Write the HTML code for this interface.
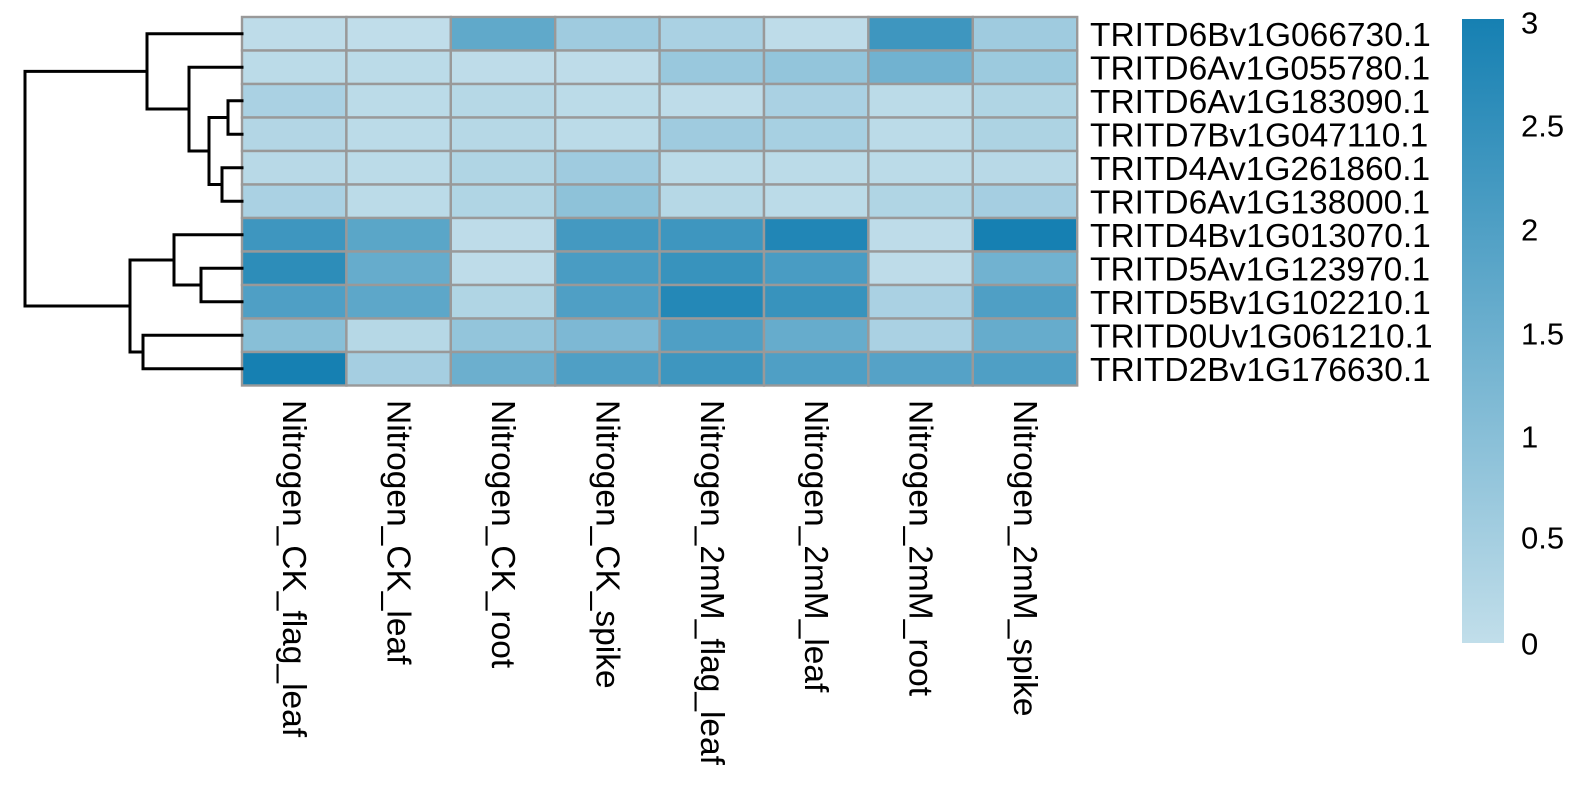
<!DOCTYPE html>
<html><head><meta charset="utf-8"><style>
html,body{margin:0;padding:0;background:#fff;}
svg{display:block;font-family:"Liberation Sans",Arial,sans-serif;}
</style></head><body>
<svg id="s" width="1588" height="792" viewBox="0 0 1588 792" xmlns="http://www.w3.org/2000/svg">
<defs><linearGradient id="g" x1="0" y1="1" x2="0" y2="0">
<stop offset="0" stop-color="#c1deea"/><stop offset="1" stop-color="#1680b2"/></linearGradient></defs>
<g id="cells"></g>
<g stroke="#000" stroke-width="3" fill="none" stroke-linecap="square">
<path d="M242,100.75 H228 V134.25 H242"/>
<path d="M242,167.75 H222 V201.25 H242"/>
<path d="M228,117.5 H209 V184.5 H222"/>
<path d="M242,67.25 H189 V151 H209"/>
<path d="M242,33.75 H147 V109 H189"/>
<path d="M242,268.25 H201 V301.75 H242"/>
<path d="M242,234.75 H174 V285 H201"/>
<path d="M242,335.25 H143 V368.75 H242"/>
<path d="M174,260 H130 V352 H143"/>
<path d="M147,71.4 H25 V306 H130"/>
</g>
<g id="rl" font-size="33.5" fill="#000"></g>
<g id="cl" font-size="33.5" fill="#000"></g>
<rect x="1462" y="19" width="42" height="624" fill="url(#g)"/>
<g font-size="31" fill="#000">
<text x="1521" y="33.5">3</text>
<text x="1521" y="136.5">2.5</text>
<text x="1521" y="240.5">2</text>
<text x="1521" y="344.5">1.5</text>
<text x="1521" y="447.5">1</text>
<text x="1521" y="548.5">0.5</text>
<text x="1521" y="654.5">0</text>
</g>
</svg>
<script>
var V=[
[0.05,0.02,1.7,0.6,0.4,0.05,2.3,0.6],
[0.1,0.1,0.05,0.05,0.7,0.8,1.4,0.65],
[0.4,0.1,0.2,0.1,0.05,0.4,0.1,0.3],
[0.25,0.1,0.2,0.1,0.6,0.45,0.1,0.35],
[0.15,0.1,0.3,0.6,0.1,0.1,0.1,0.15],
[0.4,0.1,0.3,0.9,0.2,0.1,0.3,0.5],
[2.3,1.8,0.05,2.2,2.3,2.8,0.05,3.0],
[2.6,1.6,0.05,2.1,2.4,2.1,0.05,1.4],
[2.0,1.75,0.3,2.0,2.75,2.4,0.4,2.0],
[1.0,0.2,0.8,1.2,2.0,1.6,0.4,1.6],
[3.0,0.5,1.5,2.0,2.3,2.0,1.9,2.0]];
var R=["TRITD6Bv1G066730.1","TRITD6Av1G055780.1","TRITD6Av1G183090.1","TRITD7Bv1G047110.1","TRITD4Av1G261860.1","TRITD6Av1G138000.1","TRITD4Bv1G013070.1","TRITD5Av1G123970.1","TRITD5Bv1G102210.1","TRITD0Uv1G061210.1","TRITD2Bv1G176630.1"];
var C=["Nitrogen_CK_flag_leaf","Nitrogen_CK_leaf","Nitrogen_CK_root","Nitrogen_CK_spike","Nitrogen_2mM_flag_leaf","Nitrogen_2mM_leaf","Nitrogen_2mM_root","Nitrogen_2mM_spike"];
var a=[193,222,234],b=[22,128,178];
function col(v){var t=v/3;return "rgb("+a.map(function(x,i){return Math.round(x+(b[i]-x)*t)}).join(",")+")";}
var x0=242,y0=17,cw=104.4,rh=33.5,h="";
for(var i=0;i<11;i++)for(var j=0;j<8;j++){
h+='<rect x="'+(x0+j*cw)+'" y="'+(y0+i*rh)+'" width="'+cw+'" height="'+rh+'" fill="'+col(V[i][j])+'" stroke="#999" stroke-width="2.4"/>';}
document.getElementById("cells").innerHTML=h;
var r="";for(var i=0;i<11;i++){r+='<text x="1090" y="'+(y0+i*rh+rh/2+12)+'">'+R[i]+'</text>';}
document.getElementById("rl").innerHTML=r;
var c="";for(var j=0;j<8;j++){var cx=x0+j*cw+cw/2-11;c+='<text transform="translate('+cx+',400) rotate(90)">'+C[j]+'</text>';}
document.getElementById("cl").innerHTML=c;
</script>
</body></html>
